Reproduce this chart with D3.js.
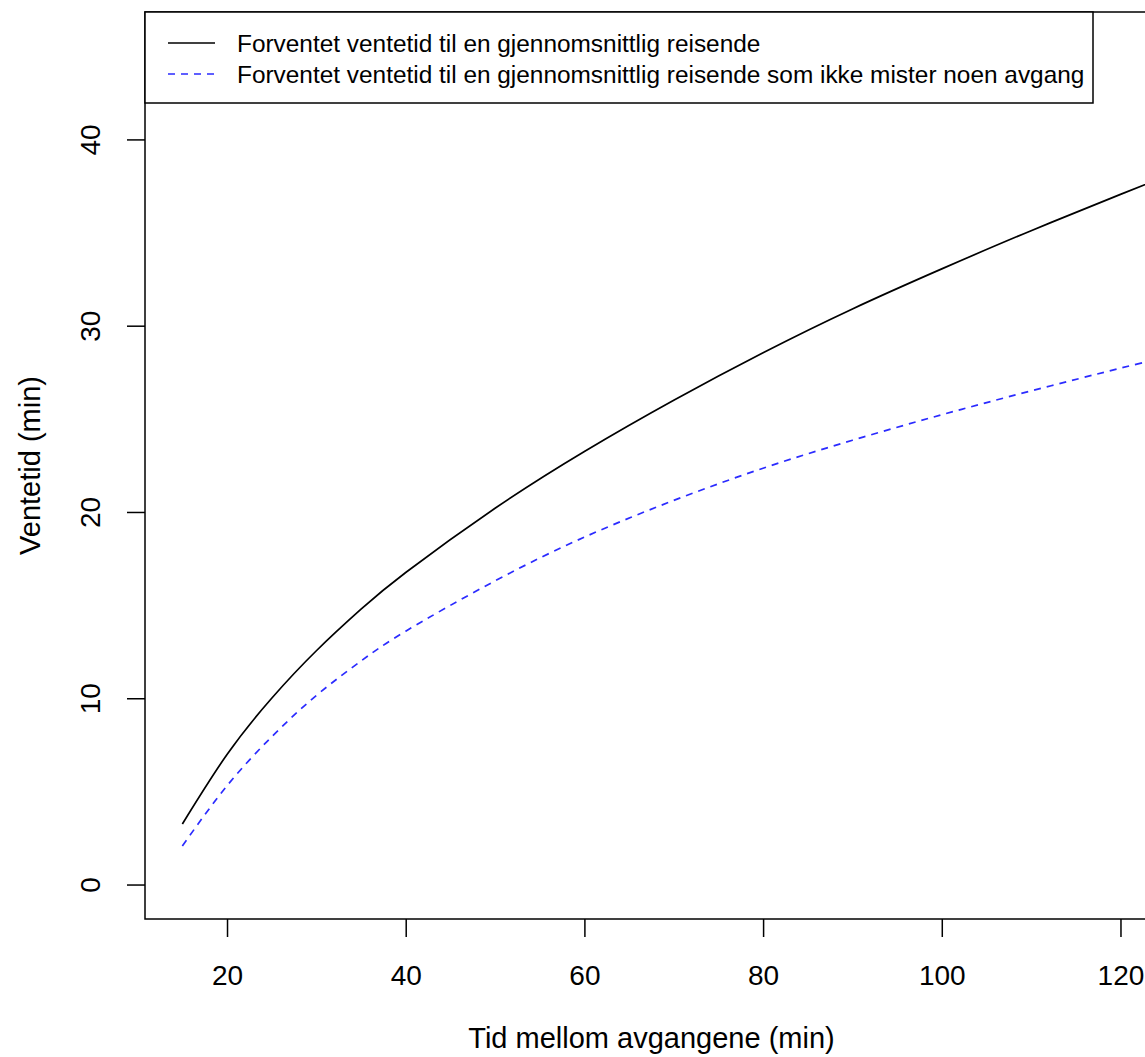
<!DOCTYPE html>
<html>
<head>
<meta charset="utf-8">
<script src="https://cdn.jsdelivr.net/npm/d3@7"></script>
<style>
  html, body { margin: 0; padding: 0; background: #fff; }
  svg { display: block; font-family: "Liberation Sans", Arial, sans-serif; }
</style>
</head>
<body>
<svg id="chart" width="1145" height="1057"></svg>
<script>
// ---- data ----
const xValues = [15, 20, 25, 30, 35, 40, 50, 60, 70, 80, 90, 100, 110, 120, 125];
const waitAll = [3.25, 6.98, 10.0, 12.55, 14.78, 16.75, 20.2, 23.25, 26.0, 28.55, 30.9, 33.05, 35.1, 37.05, 38.0];
const waitNoMiss = [2.07, 5.3, 7.93, 10.15, 12.0, 13.6, 16.3, 18.65, 20.62, 22.35, 23.85, 25.22, 26.5, 27.72, 28.3];
const xTicks = [20, 40, 60, 80, 100, 120];
const yTicks = [0, 10, 20, 30, 40];
const seriesNames = [
  "Forventet ventetid til en gjennomsnittlig reisende",
  "Forventet ventetid til en gjennomsnittlig reisende som ikke mister noen avgang"
];
const xTitle = "Tid mellom avgangene (min)";
const yTitle = "Ventetid (min)";

// ---- layout ----
const svg = d3.select("#chart");
const plot = { left: 145, top: 12, right: 1158, bottom: 919 };
const x = d3.scaleLinear().domain([10.82, 124.2]).range([plot.left, plot.right]);
const y = d3.scaleLinear().domain([-1.85, 46.84]).range([plot.bottom, plot.top]);

const axisFont = 28, titleFont = 29, legendFont = 24.4;

svg.append("defs").append("clipPath").attr("id", "clip")
  .append("rect").attr("x", plot.left).attr("y", plot.top)
  .attr("width", plot.right - plot.left).attr("height", plot.bottom - plot.top);

// curves
const series = [
  { values: waitAll, color: "#000000", dash: null },
  { values: waitNoMiss, color: "#2b2bff", dash: "7,6" }
];
const line = d3.line()
  .x(d => x(d[0])).y(d => y(d[1]))
  .curve(d3.curveNatural);

const g = svg.append("g").attr("clip-path", "url(#clip)");
series.forEach(s => {
  g.append("path")
    .datum(xValues.map((v, i) => [v, s.values[i]]))
    .attr("d", line)
    .attr("fill", "none")
    .attr("stroke", s.color)
    .attr("stroke-width", 1.7)
    .attr("stroke-dasharray", s.dash);
});

// axes
const xAxis = svg.append("g")
  .attr("transform", `translate(0,${plot.bottom})`)
  .call(d3.axisBottom(x).tickValues(xTicks).tickSize(18).tickSizeOuter(0).tickFormat(d3.format("d")));
xAxis.select(".domain").remove();
xAxis.selectAll(".tick line").attr("stroke", "#000").attr("stroke-width", 1.5);
xAxis.selectAll(".tick text")
  .attr("y", 66).attr("dy", null)
  .attr("fill", "#000").attr("font-size", axisFont)
  .attr("font-family", "Liberation Sans, Arial, sans-serif");

const yAxis = svg.append("g")
  .attr("transform", `translate(${plot.left},0)`)
  .call(d3.axisLeft(y).tickValues(yTicks).tickSize(18).tickSizeOuter(0).tickFormat(d3.format("d")));
yAxis.select(".domain").remove();
yAxis.selectAll(".tick line").attr("stroke", "#000").attr("stroke-width", 1.5);
yAxis.selectAll(".tick text")
  .attr("x", null).attr("dy", null)
  .attr("text-anchor", "middle")
  .attr("transform", "translate(-45,0) rotate(-90)")
  .attr("fill", "#000").attr("font-size", axisFont)
  .attr("font-family", "Liberation Sans, Arial, sans-serif");

// plot frame
svg.append("rect")
  .attr("x", plot.left).attr("y", plot.top)
  .attr("width", plot.right - plot.left).attr("height", plot.bottom - plot.top)
  .attr("fill", "none").attr("stroke", "#000").attr("stroke-width", 1.5);

// axis titles
svg.append("text")
  .attr("x", (plot.left + plot.right) / 2).attr("y", 1048)
  .attr("text-anchor", "middle").attr("font-size", titleFont).attr("fill", "#000")
  .text(xTitle);
svg.append("text")
  .attr("transform", `translate(40,${(plot.top + plot.bottom) / 2}) rotate(-90)`)
  .attr("text-anchor", "middle").attr("font-size", titleFont).attr("fill", "#000")
  .text(yTitle);

// legend
const legend = svg.append("g");
legend.append("rect")
  .attr("x", plot.left).attr("y", plot.top)
  .attr("width", 1093 - plot.left).attr("height", 103 - plot.top)
  .attr("fill", "#fff").attr("stroke", "#000").attr("stroke-width", 1.5);
const legendY = [43, 74];
series.forEach((s, i) => {
  legend.append("line")
    .attr("x1", 168).attr("x2", 215)
    .attr("y1", legendY[i]).attr("y2", legendY[i])
    .attr("stroke", s.color).attr("stroke-width", 1.7)
    .attr("stroke-dasharray", s.dash);
  legend.append("text")
    .attr("x", 237).attr("y", legendY[i]).attr("dy", "0.35em")
    .attr("font-size", legendFont).attr("fill", "#000")
    .text(seriesNames[i]);
});
</script>
</body>
</html>
